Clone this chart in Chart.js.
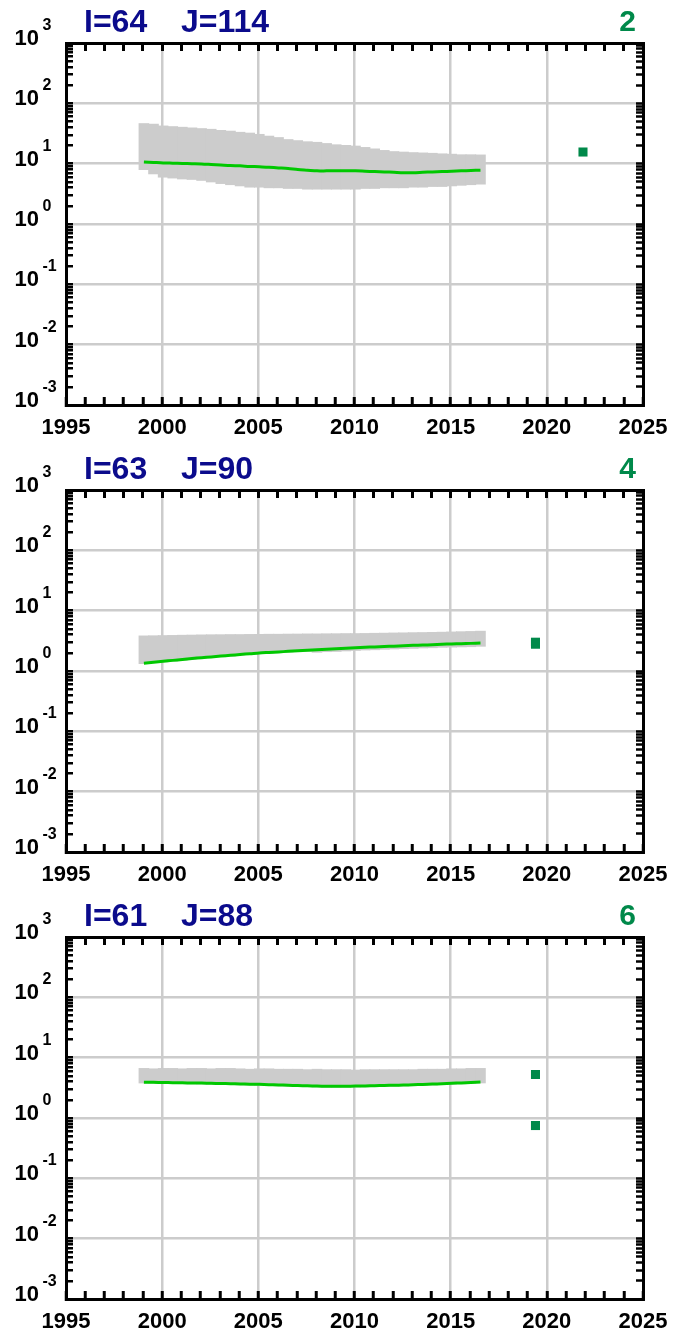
<!DOCTYPE html>
<html>
<head>
<meta charset="UTF-8">
<title>I/J panels</title>
<script src="https://cdn.jsdelivr.net/npm/chart.js@4/dist/chart.umd.min.js"></script>
<style>
html, body { margin: 0; padding: 0; background: #fff; overflow: hidden; }
.page { position: relative; width: 693px; height: 1333px; overflow: hidden; }
.panel { position: absolute; left: 0; width: 693px; height: 447px; }
.panel canvas { position: absolute; left: 0; top: 0; }
.lbl { position: absolute; top: 5px; font: bold 32px "Liberation Sans", Arial, sans-serif; line-height: 32px; color: #0b0b8c; white-space: pre; }
.num { position: absolute; top: 6px; right: 57px; font: bold 30px "Liberation Sans", Arial, sans-serif; line-height: 30px; color: #00894a; }
</style>
</head>
<body>
<div class="page" id="page"></div>
<script>
// sample times (centre of each half-year bar)
const years = [1999.05, 1999.55, 2000.05, 2000.55, 2001.05, 2001.55, 2002.05, 2002.55, 2003.05, 2003.55,
	2004.05, 2004.55, 2005.05, 2005.55, 2006.05, 2006.55, 2007.05, 2007.55, 2008.05, 2008.55,
	2009.05, 2009.55, 2010.05, 2010.55, 2011.05, 2011.55, 2012.05, 2012.55, 2013.05, 2013.55,
	2014.05, 2014.55, 2015.05, 2015.55, 2016.05, 2016.55];

// panel 1 : I=64 J=114
const p1Median = [10.7, 10.5, 10.3, 10.2, 10.1, 10.0, 9.9, 9.7, 9.5, 9.3, 9.2, 9.0, 8.9, 8.7, 8.5, 8.3, 8.0, 7.8,
	7.6, 7.6, 7.6, 7.6, 7.6, 7.5, 7.4, 7.3, 7.2, 7.1, 7.1, 7.2, 7.3, 7.4, 7.5, 7.6, 7.7, 7.8];
const p1High = [46, 45, 42, 41, 40, 39, 38, 37, 35.5, 34.5, 33, 32, 30.5, 28.5, 27, 25, 24, 23,
	22.5, 21.5, 20.5, 20, 19.5, 18.5, 17.5, 16.5, 15.8, 15.5, 15.2, 15, 14.8, 14.5, 14.3, 14, 14, 13.9];
const p1Low = [8.0, 6.8, 6.0, 5.8, 5.6, 5.5, 5.3, 5.0, 4.7, 4.5, 4.3, 4.1, 4.1, 4.0, 4.0, 3.9, 3.9, 3.8,
	3.8, 3.8, 3.8, 3.8, 3.8, 3.9, 3.9, 4.0, 4.0, 4.0, 4.1, 4.1, 4.2, 4.2, 4.3, 4.4, 4.5, 4.6];
const p1ObsX = [2021.88];
const p1ObsY = [15.6];

// panel 2 : I=63 J=90
const p2Median = [1.35, 1.40, 1.45, 1.50, 1.55, 1.61, 1.66, 1.71, 1.77, 1.82, 1.88, 1.93, 1.99, 2.03, 2.07, 2.12, 2.16, 2.20,
	2.25, 2.30, 2.34, 2.39, 2.44, 2.48, 2.51, 2.55, 2.58, 2.62, 2.66, 2.69, 2.73, 2.77, 2.81, 2.84, 2.87, 2.90];
const p2High = [3.80, 3.82, 3.85, 3.87, 3.90, 3.92, 3.95, 3.97, 3.98, 4.00, 4.00, 4.02, 4.03, 4.05, 4.05, 4.07, 4.08, 4.10,
	4.10, 4.12, 4.13, 4.15, 4.15, 4.17, 4.20, 4.22, 4.25, 4.27, 4.30, 4.32, 4.35, 4.38, 4.42, 4.46, 4.50, 4.55];
const p2Low = [1.33, 1.38, 1.42, 1.47, 1.52, 1.58, 1.63, 1.68, 1.73, 1.78, 1.84, 1.89, 1.95, 1.99, 2.02, 2.07, 2.10, 2.13,
	2.05, 2.10, 2.12, 2.16, 2.20, 2.24, 2.26, 2.30, 2.33, 2.36, 2.38, 2.42, 2.44, 2.48, 2.50, 2.52, 2.54, 2.58];
const p2ObsX = [2019.41, 2019.41];
const p2ObsY = [3.0, 2.78];

// panel 3 : I=61 J=88
const p3Median = [3.93, 3.90, 3.87, 3.85, 3.83, 3.81, 3.79, 3.76, 3.73, 3.70, 3.67, 3.64, 3.61, 3.57, 3.53, 3.49, 3.45, 3.42,
	3.38, 3.36, 3.35, 3.36, 3.38, 3.40, 3.43, 3.46, 3.49, 3.52, 3.56, 3.60, 3.65, 3.70, 3.76, 3.82, 3.88, 3.94];
const p3High = [6.6, 6.5, 6.6, 6.6, 6.5, 6.6, 6.6, 6.5, 6.6, 6.6, 6.5, 6.4, 6.5, 6.5, 6.4, 6.4, 6.4, 6.3,
	6.4, 6.3, 6.3, 6.3, 6.2, 6.3, 6.3, 6.3, 6.3, 6.3, 6.3, 6.4, 6.4, 6.4, 6.5, 6.5, 6.6, 6.6];
const p3Low = [3.82, 3.79, 3.76, 3.74, 3.72, 3.70, 3.68, 3.65, 3.62, 3.59, 3.56, 3.53, 3.50, 3.46, 3.42, 3.39, 3.35, 3.32,
	3.28, 3.26, 3.25, 3.26, 3.28, 3.30, 3.33, 3.36, 3.39, 3.42, 3.45, 3.49, 3.54, 3.59, 3.65, 3.71, 3.77, 3.83];
const p3ObsX = [2019.41, 2019.41];
const p3ObsY = [5.26, 0.75];

const panelI = ['I=64', 'I=63', 'I=61'];
const panelJ = ['J=114', 'J=90', 'J=88'];
const panelNum = ['2', '4', '6'];

// axes
const xMin = 1995, xMax = 2025;
const yMin = 1e-3, yMax = 1e3;
const yDecades = [-3, -2, -1, 0, 1, 2, 3];
const yMinor = [1, 2, 3, 4, 5, 6, 7, 8, 9];

const FONT = '"Liberation Sans", Arial, sans-serif';
const GRID = '#cccccc';
const NONE = 'rgba(0,0,0,0)';

function logTicks(scale) {
	const t = [];
	yDecades.forEach(d => yMinor.forEach(m => {
		const v = m * Math.pow(10, d);
		if (v <= yMax * 1.0001) t.push({ value: v, major: m === 1 });
	}));
	scale.ticks = t;
}

// "10" with the exponent raised, one per decade of the left axis
const decadeLabels = {
	id: 'decadeLabels',
	afterDraw(chart) {
		const s = chart.scales.y, ctx = chart.ctx;
		ctx.save();
		ctx.fillStyle = '#000';
		ctx.textAlign = 'left';
		ctx.textBaseline = 'alphabetic';
		s.ticks.forEach(t => {
			if (!t.major) return;
			const y = s.getPixelForValue(t.value);
			const e = Math.round(Math.log10(t.value));
			ctx.font = 'bold 22px ' + FONT;
			ctx.fillText('10', 14.5, y + 2);
			const w = ctx.measureText('10').width;
			ctx.font = 'bold 16px ' + FONT;
			ctx.fillText(String(e), 14.5 + w + 3.5, y - 13);
		});
		ctx.restore();
	}
};

function makePanel(k, median, high, low, obsX, obsY) {
	const page = document.getElementById('page');
	const div = document.createElement('div');
	div.className = 'panel';
	div.style.top = (447 * k) + 'px';
	div.innerHTML = '<canvas width="693" height="447"></canvas>' +
		'<div class="lbl" style="left:84px">' + panelI[k] + '</div>' +
		'<div class="lbl" style="left:181px">' + panelJ[k] + '</div>' +
		'<div class="num">' + panelNum[k] + '</div>';
	page.appendChild(div);

	const band = years.map((x, i) => ({ x: x, y: [low[i], high[i]] }));
	const line = years.map((x, i) => ({ x: x, y: median[i] }));
	const obs = obsX.map((x, i) => ({ x: x, y: obsY[i] }));

	const xGrid = ctx => (ctx.tick && ctx.tick.value % 5 === 0 && ctx.tick.value > xMin && ctx.tick.value < xMax) ? GRID : NONE;
	const yGrid = ctx => (ctx.tick && ctx.tick.major && ctx.tick.value > yMin * 1.01 && ctx.tick.value < yMax * 0.99) ? GRID : NONE;
	const border = { display: true, color: '#000', width: 3 };

	new Chart(div.querySelector('canvas'), {
		type: 'bar',
		data: {
			datasets: [
				{ type: 'scatter', data: obs, backgroundColor: '#00894a', borderWidth: 0, pointStyle: 'rect', pointRadius: 6.4, order: 1 },
				{ type: 'line', data: line, borderColor: '#00c800', borderWidth: 3, pointRadius: 0, tension: 0.3, order: 2 },
				{ type: 'bar', data: band, backgroundColor: '#cccccc', borderWidth: 0, barPercentage: 1, categoryPercentage: 1, inflateAmount: 0.5, order: 3 }
			]
		},
		options: {
			responsive: false, animation: false, devicePixelRatio: 1, events: [],
			layout: { padding: 0 },
			plugins: { legend: { display: false }, tooltip: { enabled: false }, title: { display: false } },
			scales: {
				x: {
					type: 'linear', position: 'bottom', min: xMin, max: xMax, offset: false,
					border: border,
					grid: { offset: false, color: xGrid, lineWidth: 2.5, tickColor: '#000', tickWidth: 3, tickLength: -8 },
					ticks: {
						stepSize: 1, autoSkip: false, maxRotation: 0, padding: 18, color: '#000',
						font: { family: FONT, weight: 'bold', size: 22 },
						callback: v => (v % 5 === 0 ? String(v) : '')
					},
					afterFit: s => { s.height = 42; }
				},
				xTop: {
					type: 'linear', position: 'top', min: xMin, max: xMax, offset: false,
					border: border,
					grid: { offset: false, drawOnChartArea: false, color: NONE, tickColor: '#000', tickWidth: 3, tickLength: -8 },
					ticks: { stepSize: 1, display: false },
					afterFit: s => { s.height = 43; }
				},
				y: {
					type: 'logarithmic', position: 'left', min: yMin, max: yMax,
					border: border,
					afterBuildTicks: logTicks,
					grid: { color: yGrid, lineWidth: 2.5, tickColor: '#000', tickWidth: 2.5, tickLength: -7 },
					ticks: { display: false },
					afterFit: s => { s.width = 66; }
				},
				yRight: {
					type: 'logarithmic', position: 'right', min: yMin, max: yMax,
					border: border,
					afterBuildTicks: logTicks,
					grid: { drawOnChartArea: false, color: NONE, tickColor: '#000', tickWidth: 2.5, tickLength: -7 },
					ticks: { display: false },
					afterFit: s => { s.width = 50; }
				}
			}
		},
		plugins: [decadeLabels]
	});
}

makePanel(0, p1Median, p1High, p1Low, p1ObsX, p1ObsY);
makePanel(1, p2Median, p2High, p2Low, p2ObsX, p2ObsY);
makePanel(2, p3Median, p3High, p3Low, p3ObsX, p3ObsY);
</script>
</body>
</html>
